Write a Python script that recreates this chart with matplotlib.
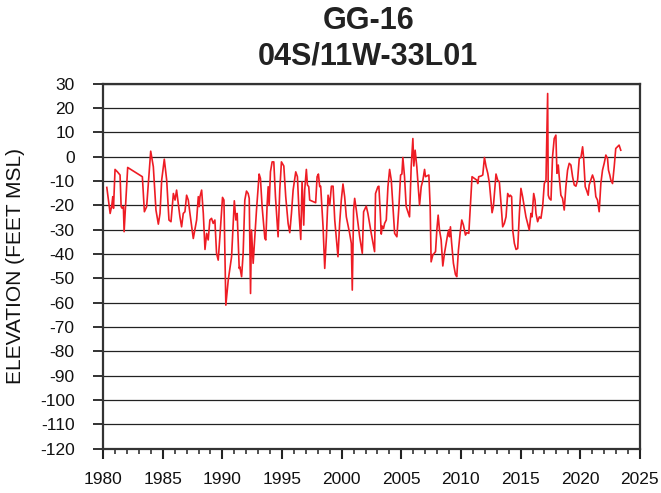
import matplotlib
matplotlib.use("Agg")
import matplotlib.pyplot as plt
from matplotlib.ticker import MultipleLocator

plt.rcParams['font.family'] = ['Liberation Sans', 'DejaVu Sans']
plt.rcParams['axes.unicode_minus'] = False

# water level readings, grouped by period (decimal year, feet MSL)
years_a = [1980.31, 1980.59, 1980.73, 1980.81, 1980.87, 1981.00, 1981.20, 1981.42,
           1981.51, 1981.60, 1981.70, 1981.76, 1982.06, 1983.29, 1983.46, 1983.65,
           1983.99, 1984.21, 1984.43, 1984.63, 1984.77, 1984.91, 1985.13, 1985.33,
           1985.52, 1985.69, 1985.89, 1986.03, 1986.16, 1986.30, 1986.44, 1986.58,
           1986.72, 1986.86, 1987.00, 1987.14, 1987.28, 1987.56, 1987.84, 1987.98,
           1988.06, 1988.12, 1988.26, 1988.40, 1988.54, 1988.68, 1988.81, 1988.95,
           1989.09, 1989.23, 1989.37, 1989.51, 1989.65, 1989.79, 1990.01, 1990.13,
           1990.29, 1990.49, 1990.77, 1991.00, 1991.13, 1991.24]
levels_a = [-12.6, -23.3, -19.9, -16.4, -21.2, -5.2, -6.2, -7.5,
            -20.5, -21.2, -20.5, -30.8, -4.4, -8.2, -22.6, -20.5,
            2.3, -4.1, -21.9, -27.7, -23.3, -9.6, -1.0, -9.6,
            -26.0, -26.7, -15.1, -17.8, -13.7, -19.2, -24.7, -28.8,
            -23.3, -22.6, -15.8, -17.8, -23.3, -33.6, -26.0, -16.4,
            -20.5, -16.4, -13.7, -23.3, -38.1, -31.5, -34.2, -26.0,
            -25.3, -27.4, -26.0, -39.7, -42.5, -32.9, -16.7, -17.8,
            -61.0, -50.7, -41.1, -18.1, -26.0, -23.3]

years_b = [1991.41, 1991.46, 1991.61, 1991.74, 1991.88, 1992.02, 1992.16, 1992.25,
           1992.36, 1992.44, 1992.58, 1992.72, 1992.86, 1993.08, 1993.19, 1993.33,
           1993.56, 1993.64, 1993.75, 1993.84, 1993.92, 1994.03, 1994.17, 1994.31,
           1994.45, 1994.67, 1994.81, 1994.95, 1995.15, 1995.31, 1995.51, 1995.65,
           1995.79, 1995.93, 1996.15, 1996.29, 1996.43, 1996.57, 1996.68, 1996.82,
           1996.90, 1997.04, 1997.13, 1997.24, 1997.32, 1997.82, 1997.94, 1998.05,
           1998.16, 1998.24, 1998.44, 1998.58, 1998.72, 1998.86, 1999.00, 1999.14,
           1999.28, 1999.42, 1999.69, 1999.83, 1999.97, 2000.11, 2000.25, 2000.39,
           2000.67, 2000.81, 2000.89, 2001.00, 2001.09, 2001.23, 2001.51]
levels_b = [-45.9, -45.2, -49.3, -39.7, -17.8, -14.1, -15.1, -17.1,
            -56.2, -30.1, -43.8, -32.9, -21.9, -7.1, -8.9, -20.5,
            -33.6, -34.2, -19.9, -12.3, -19.9, -6.2, -2.1, -2.1,
            -16.4, -32.9, -13.7, -2.1, -3.8, -16.4, -27.4, -31.2,
            -23.3, -13.7, -6.2, -8.2, -23.3, -34.0, -10.3, -28.1,
            -13.7, -5.2, -11.6, -12.3, -17.8, -18.9, -8.2, -7.1,
            -12.3, -12.1, -28.8, -45.9, -32.9, -15.8, -19.9, -12.1,
            -12.1, -26.0, -41.1, -27.4, -17.8, -11.2, -16.4, -24.7,
            -31.5, -35.6, -54.8, -21.9, -17.1, -21.9, -32.9]

years_c = [2001.73, 2001.84, 2002.06, 2002.20, 2002.48, 2002.76, 2002.84, 2003.04,
           2003.12, 2003.24, 2003.32, 2003.40, 2003.51, 2003.60, 2003.74, 2003.88,
           2004.02, 2004.16, 2004.30, 2004.44, 2004.63, 2004.80, 2004.94, 2005.05,
           2005.13, 2005.27, 2005.41, 2005.55, 2005.69, 2005.83, 2005.97, 2006.05,
           2006.16, 2006.30, 2006.53, 2006.67, 2006.81, 2006.95, 2007.03, 2007.14,
           2007.31, 2007.42, 2007.50, 2007.64, 2007.87, 2007.98, 2008.09, 2008.20,
           2008.34, 2008.48, 2008.62, 2008.76, 2008.90, 2008.98, 2009.04, 2009.12,
           2009.21, 2009.37, 2009.54, 2009.65, 2009.79, 2009.93, 2010.07, 2010.21,
           2010.38, 2010.49, 2010.66, 2010.79, 2010.93, 2011.13, 2011.33, 2011.41,
           2011.49, 2011.69, 2011.83, 2011.97, 2012.11, 2012.25, 2012.39]
levels_c = [-39.7, -22.6, -20.3, -23.3, -31.5, -39.0, -15.1, -12.3,
            -12.1, -23.3, -31.8, -28.5, -29.5, -27.4, -26.0, -12.3,
            -5.2, -9.6, -20.5, -31.5, -32.9, -20.5, -7.5, -7.1,
            -0.3, -8.2, -20.5, -22.6, -24.7, -4.1, 7.5, -3.8,
            2.7, -4.1, -19.9, -12.3, -9.6, -5.2, -8.2, -7.9,
            -7.5, -20.5, -43.2, -40.4, -39.0, -30.1, -24.0, -30.1,
            -34.2, -44.9, -39.7, -35.6, -31.5, -30.1, -32.9, -28.8,
            -34.9, -43.8, -48.4, -49.3, -38.4, -31.5, -26.0, -28.1,
            -32.2, -31.2, -31.5, -20.5, -8.2, -8.9, -9.6, -11.0,
            -8.2, -7.9, -7.5, -0.3, -4.1, -6.8, -11.0]

years_d = [2012.61, 2012.72, 2012.94, 2013.08, 2013.22, 2013.36, 2013.50, 2013.64,
           2013.78, 2013.92, 2014.06, 2014.14, 2014.25, 2014.34, 2014.48, 2014.62,
           2014.76, 2014.90, 2015.03, 2015.17, 2015.31, 2015.45, 2015.73, 2015.87,
           2015.96, 2016.10, 2016.21, 2016.29, 2016.43, 2016.57, 2016.71, 2016.85,
           2016.99, 2017.13, 2017.27, 2017.32, 2017.41, 2017.55, 2017.68, 2017.82,
           2017.96, 2018.05, 2018.16, 2018.24, 2018.38, 2018.52, 2018.66, 2018.80,
           2018.94, 2019.08, 2019.22, 2019.36, 2019.50, 2019.64, 2019.78, 2019.92,
           2020.06, 2020.20, 2020.28, 2020.42, 2020.53, 2020.67, 2020.75, 2020.89,
           2021.03, 2021.17, 2021.31, 2021.45, 2021.59, 2021.73, 2021.87, 2022.01,
           2022.15, 2022.29, 2022.37, 2022.48, 2022.57, 2022.71, 2022.85, 2022.98,
           2023.12, 2023.26, 2023.40]
levels_d = [-23.0, -20.5, -7.1, -9.6, -10.3, -19.2, -28.8, -27.4,
            -24.7, -15.1, -16.4, -15.8, -16.4, -30.1, -35.6, -38.1,
            -37.7, -23.3, -13.0, -16.4, -20.5, -24.7, -30.1, -23.3,
            -24.7, -15.1, -17.8, -23.3, -26.7, -24.7, -25.3, -20.5,
            -11.0, -9.6, 26.0, -15.8, -17.1, -17.8, 0.0, 7.5,
            8.9, -6.8, -3.4, -8.2, -15.8, -17.1, -21.9, -12.3,
            -5.5, -2.7, -3.4, -8.2, -11.6, -12.1, -9.6, -0.7,
            -0.3, 4.1, 0.0, -12.3, -13.7, -15.8, -11.6, -9.6,
            -7.5, -9.6, -16.4, -17.8, -22.6, -11.0, -5.5, -2.7,
            0.7, -0.7, -5.5, -7.5, -9.6, -11.0, -4.1, 3.4,
            4.1, 4.8, 2.7]

years = years_a + years_b + years_c + years_d
levels = levels_a + levels_b + levels_c + levels_d

fig = plt.figure(figsize=(6.61, 4.93), dpi=100)
ax = fig.add_axes([0.156, 0.090, 0.812, 0.740])

ax.plot(years, levels, color='#ee1c24', lw=1.2)

ax.set_xlim(1980, 2025)
ax.set_ylim(-120, 30)
ax.xaxis.set_major_locator(MultipleLocator(5))
ax.xaxis.set_minor_locator(MultipleLocator(1))
ax.yaxis.set_major_locator(MultipleLocator(10))
ax.grid(axis='y', color='#222222', lw=0.9)

ax.tick_params(axis='both', which='major', direction='out', labelsize=12.5,
               color='#222222', labelcolor='#111111')
ax.tick_params(axis='x', which='major', length=7.5, width=1.5, pad=9)
ax.tick_params(axis='x', which='minor', length=3.5, width=1.1, color='#222222')
ax.tick_params(axis='y', which='major', length=7.5, width=1.3, pad=13)
for side in ['left', 'bottom', 'right', 'top']:
    ax.spines[side].set_color('#333333')
    ax.spines[side].set_linewidth(1.6)

ax.set_ylabel('ELEVATION (FEET MSL)', fontsize=15, va='center', color='#111111')
ax.yaxis.set_label_coords(-0.163, 0.5)

fig.text(0.557, 0.9406, 'GG-16', ha='center', va='baseline', fontsize=22,
         fontweight='bold', color='#222222')
fig.text(0.557, 0.8696, '04S/11W-33L01', ha='center', va='baseline', fontsize=22,
         fontweight='bold', color='#222222')

fig.savefig('out.png', dpi=100)
